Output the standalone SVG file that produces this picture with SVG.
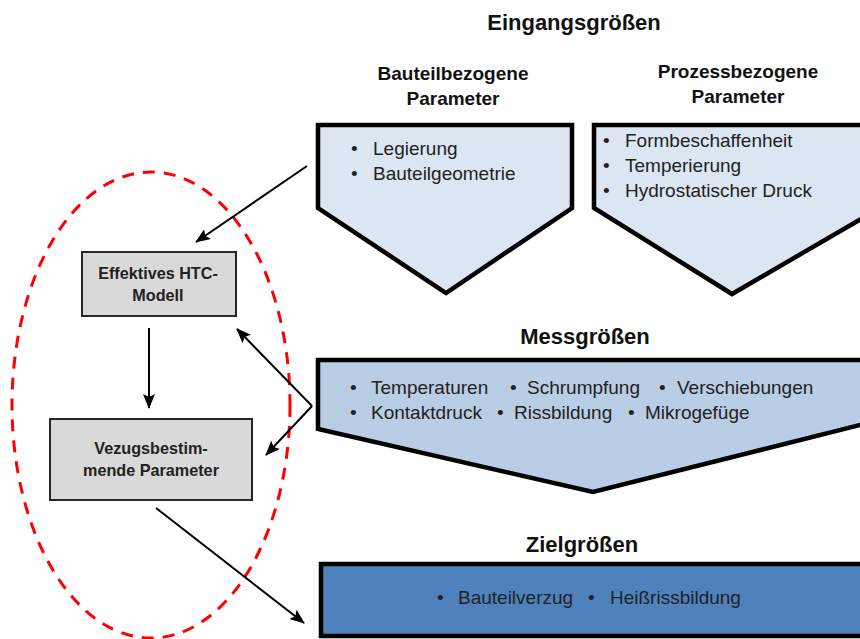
<svg xmlns="http://www.w3.org/2000/svg" width="860" height="639" viewBox="0 0 860 639">
<defs>
<marker id="ah" markerUnits="userSpaceOnUse" markerWidth="15" markerHeight="12" refX="14" refY="6" orient="auto">
<path d="M0,0 L15,6 L0,12 L3,6 Z" fill="#000"/>
</marker>
<style>
.title{font-family:"Liberation Sans",Arial,sans-serif;font-weight:bold;fill:#111;text-anchor:middle}
.t22{font-size:22px}
.t18{font-size:19px}
.item{font-family:"Liberation Sans",Arial,sans-serif;font-size:19px;fill:#222}
.box{fill:#D9D9D9;stroke:#111;stroke-width:1.8}
.boxtxt{font-family:"Liberation Sans",Arial,sans-serif;font-weight:bold;font-size:16.2px;fill:#222;text-anchor:middle}
.pent{fill:#DCE6F2;stroke:#000;stroke-width:4.5;stroke-linejoin:miter}
.conn{fill:none;stroke:#000;stroke-width:2;marker-end:url(#ah)}
</style>
</defs>
<rect width="860" height="639" fill="#fff"/>

<text class="title t22" x="574" y="30">Eingangsgrößen</text>
<text class="title t18" x="453" y="80">Bauteilbezogene</text>
<text class="title t18" x="453" y="105">Parameter</text>
<text class="title t18" x="738" y="78">Prozessbezogene</text>
<text class="title t18" x="738" y="103">Parameter</text>
<text class="title t22" x="585" y="344">Messgrößen</text>
<text class="title t22" x="582" y="552">Zielgrößen</text>

<g id="bauteil">
<path class="pent" d="M318,125 L572,125 L572,208 L446,293 L318,208 Z"/>
<text class="item"><tspan x="351" y="155">•</tspan><tspan x="373" y="155">Legierung</tspan><tspan x="351" y="180">•</tspan><tspan x="373" y="180">Bauteilgeometrie</tspan></text>
</g>

<g id="prozess">
<path class="pent" d="M594,125 L880,125 L880,208 L732,294 L594,208 Z"/>
<text class="item"><tspan x="603" y="147">•</tspan><tspan x="625" y="147">Formbeschaffenheit</tspan><tspan x="603" y="172">•</tspan><tspan x="625" y="172">Temperierung</tspan><tspan x="603" y="197">•</tspan><tspan x="625" y="197">Hydrostatischer Druck</tspan></text>
</g>

<g id="mess">
<path d="M318,360 L880,360 L880,420 L593,492 L318,429 Z" fill="#B9CDE5" stroke="#000" stroke-width="4.5"/>
<text class="item"><tspan x="350" y="394">•</tspan><tspan x="371" y="394">Temperaturen</tspan><tspan x="510" y="394">•</tspan><tspan x="527" y="394">Schrumpfung</tspan><tspan x="659" y="394">•</tspan><tspan x="677" y="394">Verschiebungen</tspan><tspan x="350" y="419">•</tspan><tspan x="371" y="419">Kontaktdruck</tspan><tspan x="497" y="419">•</tspan><tspan x="514" y="419">Rissbildung</tspan><tspan x="628" y="419">•</tspan><tspan x="645" y="419">Mikrogefüge</tspan></text>
</g>

<g id="ziel">
<rect x="321" y="564" width="560" height="72" fill="#4F81BD" stroke="#000" stroke-width="4.5"/>
<text class="item"><tspan x="437" y="604">•</tspan><tspan x="458" y="604">Bauteilverzug</tspan><tspan x="588" y="604">•</tspan><tspan x="610" y="604">Heißrissbildung</tspan></text>
</g>

<g id="htc">
<rect class="box" x="82" y="252" width="154" height="64"/>
<text class="boxtxt" x="158" y="279">Effektives HTC-</text>
<text class="boxtxt" x="158" y="301">Modell</text>
</g>

<g id="vezug">
<rect class="box" x="50" y="419" width="202" height="81"/>
<text class="boxtxt" x="151" y="454">Vezugsbestim-</text>
<text class="boxtxt" x="151" y="476">mende Parameter</text>
</g>

<g id="focus">
<ellipse cx="151" cy="405" rx="139" ry="233" fill="none" stroke="#FF0000" stroke-width="3" stroke-dasharray="12,9"/>
</g>

<g id="connectors">
<line class="conn" x1="307" y1="166" x2="196" y2="242"/>
<line class="conn" x1="149" y1="328" x2="149" y2="408"/>
<line class="conn" x1="312" y1="406" x2="237" y2="329"/>
<line class="conn" x1="312" y1="406" x2="266" y2="455"/>
<line class="conn" x1="156" y1="508" x2="304" y2="623"/>
</g>
</svg>
